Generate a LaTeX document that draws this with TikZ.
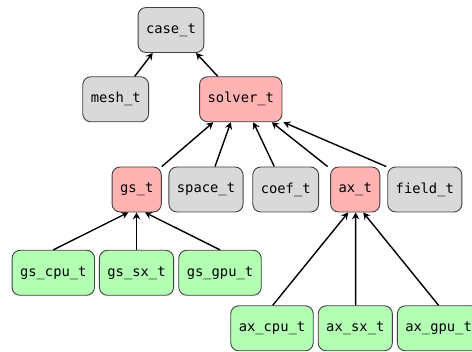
\documentclass[tikz,border=0pt]{standalone}
\usepackage{fontspec}
\setmonofont{DejaVu Sans Mono}
\usetikzlibrary{arrows.meta}
\definecolor{boxgray}{HTML}{D9D9D9}
\definecolor{boxred}{HTML}{FFB3B3}
\definecolor{boxgreen}{HTML}{B3FFB3}
\definecolor{boxline}{HTML}{404040}
\begin{document}
\begin{tikzpicture}[x=1pt,y=-1pt,
  box/.style={draw=boxline,line width=0.9pt,rounded corners=8pt,minimum height=45pt,inner xsep=8pt,inner ysep=0pt,
    font=\fontsize{13.8}{16}\ttfamily},
  graybox/.style={box,fill=boxgray},
  redbox/.style={box,fill=boxred},
  greenbox/.style={box,fill=boxgreen},
  edge/.style={line width=1.4pt,-{Stealth[length=7pt,width=7.5pt,inset=2.5pt]}}]
\useasboundingbox (0,0) rectangle (472,352);
\node[graybox] (case) at (171,30) {case\_t};
\node[graybox] (mesh) at (115.7,99.3) {mesh\_t};
\node[redbox] (solver) at (240.8,99.3) {solver\_t};
\node[redbox] (gs) at (136.7,189.5) {gs\_t};
\node[graybox] (space) at (206,189.5) {space\_t};
\node[graybox] (coef) at (285.7,189.5) {coef\_t};
\node[redbox] (ax) at (355.2,189.5) {ax\_t};
\node[graybox] (field) at (424.8,189.5) {field\_t};
\node[greenbox] (gscpu) at (53.3,272.8) {gs\_cpu\_t};
\node[greenbox] (gssx) at (136.5,272.8) {gs\_sx\_t};
\node[greenbox] (gsgpu) at (220,272.8) {gs\_gpu\_t};
\node[greenbox] (axcpu) at (272,328.3) {ax\_cpu\_t};
\node[greenbox] (axsx) at (355.3,328.3) {ax\_sx\_t};
\node[greenbox] (axgpu) at (438.6,328.3) {ax\_gpu\_t};
\draw[edge] ([xshift=19pt]mesh.north) -- ([xshift=-18.3pt]case.south);
\draw[edge] ([xshift=-23pt]solver.north) -- ([xshift=25pt]case.south);
\draw[edge] (gs.north east) -- ([xshift=-27.5pt]solver.south);
\draw[edge] ([xshift=9pt]space.north) -- ([xshift=-10pt]solver.south);
\draw[edge] ([xshift=-11.4pt]coef.north) -- ([xshift=12.5pt]solver.south);
\draw[edge] ([xshift=-2.5pt]ax.north west) -- ([xshift=31pt]solver.south);
\draw[edge] ([xshift=-1pt]field.north west) -- ([xshift=1pt]solver.south east);
\draw[edge] (gscpu.north) -- ([xshift=-8.4pt]gs.south);
\draw[edge] (gssx.north) -- ([xshift=-0.2pt]gs.south);
\draw[edge] (gsgpu.north) -- ([xshift=8.3pt]gs.south);
\draw[edge] ([xshift=0.7pt]axcpu.north) -- ([xshift=-7pt]ax.south);
\draw[edge] ([xshift=0.4pt]axsx.north) -- ([xshift=0.4pt]ax.south);
\draw[edge] (axgpu.north) -- ([xshift=8pt]ax.south);
\end{tikzpicture}
\end{document}
